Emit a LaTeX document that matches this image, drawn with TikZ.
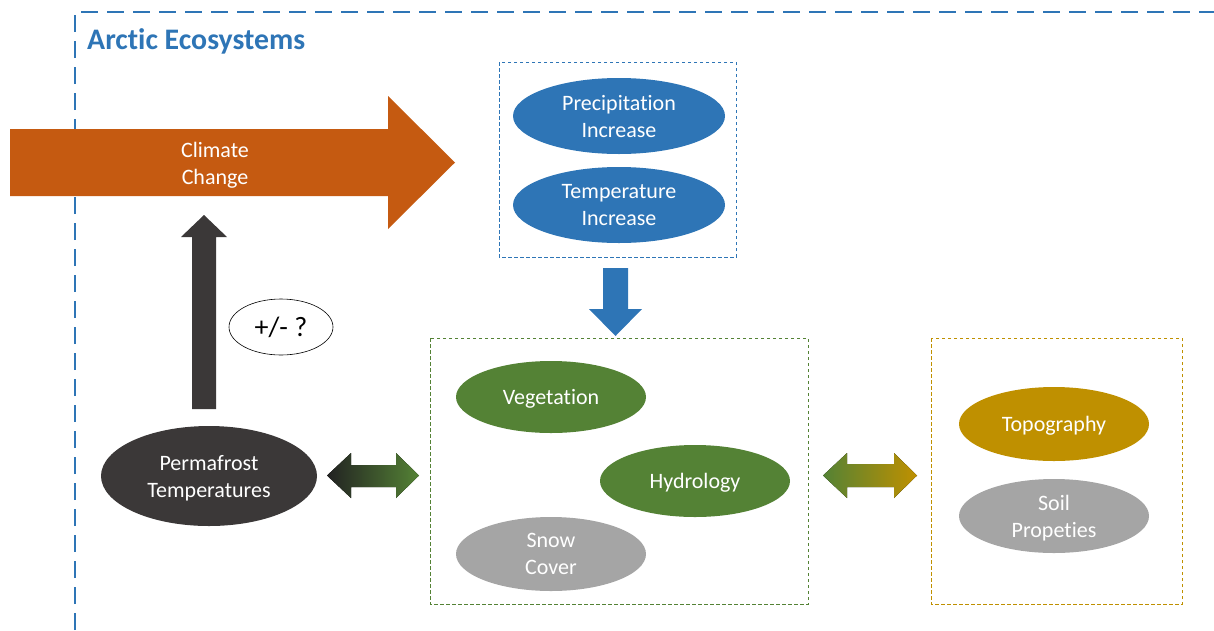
\documentclass[tikz,border=0pt]{standalone}
\usepackage{fontspec}
\setmainfont{Carlito}[Ligatures=NoCommon]
\usetikzlibrary{shapes.geometric}
\definecolor{cblue}{HTML}{2E75B6}
\definecolor{corange}{HTML}{C55A11}
\definecolor{cgreen}{HTML}{548235}
\definecolor{cgold}{HTML}{BF9000}
\definecolor{cgray}{HTML}{A5A5A5}
\definecolor{cdark}{HTML}{3B3838}
\definecolor{cdarkest}{HTML}{222222}
\tikzset{
  ell/.style={ellipse, inner sep=0pt, text=white, align=center,
    font=\fontsize{22}{27}\selectfont, text depth=0pt},
  grp/.style={draw=#1, line width=0.9pt, dash pattern=on 3.5pt off 2.5pt},
}
\begin{document}
\begin{tikzpicture}[x=1pt,y=-1pt]
\useasboundingbox (0,0) rectangle (1214,630);
% outer frame
\draw[cblue, line width=2pt, dash pattern=on 17pt off 9pt] (75,630) -- (75,12) -- (1214,12);
\node[anchor=west, text=cblue, font=\fontsize{29.8}{32}\selectfont\bfseries, inner sep=0pt] (title) at (87,41.5) {Arctic Ecosystems};

% climate change arrow
\fill[corange] (10,129) -- (388,129) -- (388,96) -- (455,162.5) -- (388,229) -- (388,196) -- (10,196) -- cycle;
\node[text=white, align=center, font=\fontsize{22}{27}\selectfont] (cc) at (215,165) {Climate\\Change};

% blue group
\draw[grp=cblue] (499,62) rectangle (736,257);
\node[ell, fill=cblue, minimum width=212pt, minimum height=76pt] (precip) at (619,116) {Precipitation\\Increase};
\node[ell, fill=cblue, minimum width=212pt, minimum height=76pt] (temp) at (619,205) {Temperature\\Increase};

% blue down arrow
\fill[cblue] (603,268) -- (628,268) -- (628,309) -- (642,309) -- (615.5,336) -- (589,309) -- (603,309) -- cycle;

% green group
\draw[grp=cgreen] (430,338) rectangle (808,604);
\node[ell, fill=cgreen, minimum width=190pt, minimum height=72pt] (veg) at (551,397) {Vegetation};
\node[ell, fill=cgreen, minimum width=190pt, minimum height=72pt] (hydro) at (695,481) {Hydrology};
\node[ell, fill=cgray, minimum width=190pt, minimum height=74pt] (snow) at (551,554) {Snow\\Cover};

% gold group
\draw[grp=cgold] (931,338) rectangle (1182,604);
\node[ell, fill=cgold, minimum width=190pt, minimum height=74pt] (topo) at (1054,424) {Topography};
\node[ell, fill=cgray, minimum width=190pt, minimum height=74pt] (soil) at (1054,516) {Soil\\Propeties};

% permafrost
\node[ell, fill=cdark, minimum width=216pt, minimum height=100pt] (perma) at (209,476) {Permafrost\\Temperatures};

% dark up arrow
\fill[cdark] (192,409) -- (216,409) -- (216,237) -- (227,237) -- (204,215) -- (181,237) -- (192,237) -- cycle;

% +/- ?
\node[ellipse, draw=black, line width=0.6pt, minimum width=104pt, minimum height=56pt, inner sep=0pt,
  font=\fontsize{28}{30}\selectfont] (pm) at (281,327) {+/- ?};

% double arrows with gradient
\fill[left color=cdarkest, right color=cgreen] (327,475.5) -- (351,453) -- (351,465) -- (396,465) -- (396,453) -- (419,475.5) -- (396,498) -- (396,487) -- (351,487) -- (351,498) -- cycle;
\fill[left color=cgreen, right color=cgold] (823,475.5) -- (847,453) -- (847,464) -- (894,464) -- (894,453) -- (917,475.5) -- (894,498) -- (894,487) -- (847,487) -- (847,498) -- cycle;
\end{tikzpicture}
\end{document}
